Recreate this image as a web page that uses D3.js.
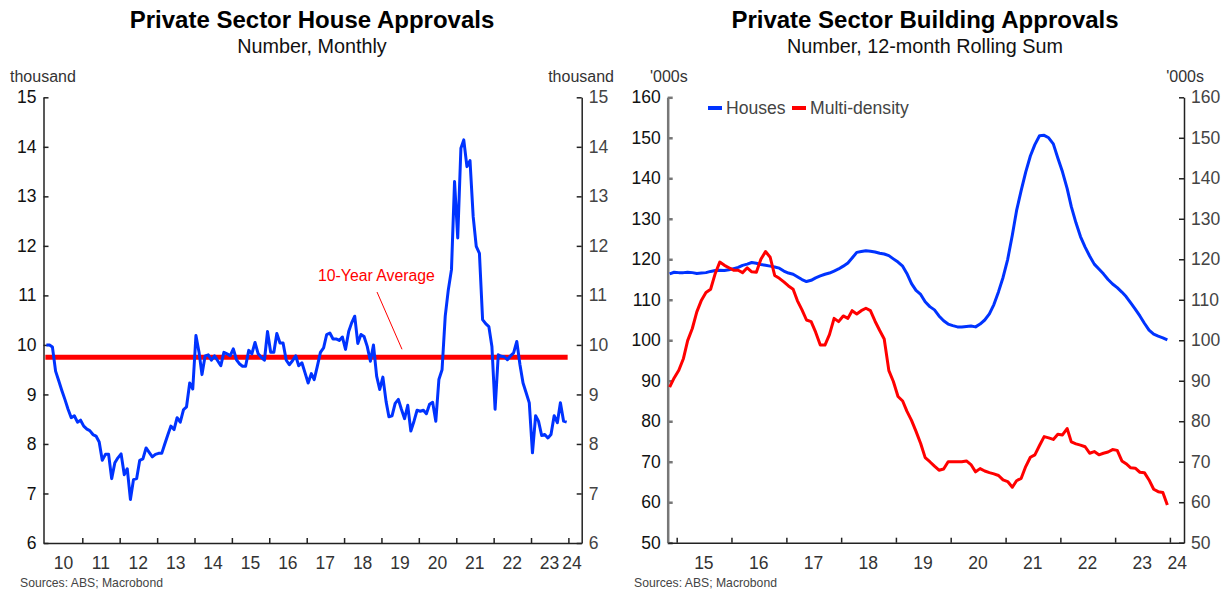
<!DOCTYPE html>
<html>
<head>
<meta charset="utf-8">
<script src="https://cdn.jsdelivr.net/npm/d3@7"></script>
<style>
  body { margin: 0; background: #fff; }
  svg { display: block; font-family: "Liberation Sans", Arial, sans-serif; }
</style>
</head>
<body>
<div class="chart"></div>
<script>
// ---- left panel: monthly private house approvals, '000, Jan 2010 .. Dec 2023
const houseStart = [2010, 0];
const houseMonthly = [
  10.0, 10.0, 9.96, 9.47, 9.28, 9.08, 8.9, 8.7, 8.53, 8.57, 8.44, 8.48,
  8.36, 8.30, 8.27, 8.19, 8.16, 8.04, 7.67, 7.79, 7.79, 7.30, 7.62, 7.72,
  7.80, 7.38, 7.50, 6.88, 7.28, 7.30, 7.67, 7.70, 7.92, 7.83, 7.74, 7.79,
  7.81, 7.81, 7.99, 8.18, 8.36, 8.29, 8.53, 8.44, 8.69, 8.75, 9.23, 9.11,
  10.19, 9.84, 9.40, 9.78, 9.80, 9.69, 9.78, 9.68, 9.58, 9.85, 9.82, 9.78,
  9.92, 9.70, 9.62, 9.57, 9.57, 9.89, 9.82, 10.05, 9.82, 9.75, 9.69, 10.27,
  9.85, 9.85, 10.23, 10.04, 10.04, 9.69, 9.60, 9.68, 9.78, 9.58, 9.64, 9.44,
  9.23, 9.42, 9.30, 9.57, 9.85, 9.94, 10.21, 10.24, 10.12, 10.12, 10.09, 10.16,
  9.91, 10.27, 10.44, 10.58, 10.03, 10.21, 10.17, 9.97, 9.67, 10.0, 9.37, 9.10,
  9.35, 8.86, 8.55, 8.57, 8.82, 8.90, 8.70, 8.51, 8.78, 8.26, 8.46, 8.68,
  8.66, 8.68, 8.61, 8.80, 8.84, 8.46, 9.30, 9.50, 10.58, 11.11, 11.52, 13.30,
  12.16, 13.97, 14.14, 13.60, 13.72, 12.59, 11.99, 11.85, 10.51, 10.43, 10.37, 9.97,
  8.70, 9.80, 9.77, 9.76, 9.70, 9.78, 9.84, 10.07, 9.60, 9.23, 9.03, 8.83,
  7.82, 8.57, 8.46, 8.17, 8.19, 8.12, 8.19, 8.57, 8.43, 8.83, 8.46, 8.44
];
const tenYearAvg = 9.75;
const houseYTicks = [6, 7, 8, 9, 10, 11, 12, 13, 14, 15];
const houseYears = [2010, 2011, 2012, 2013, 2014, 2015, 2016, 2017, 2018, 2019, 2020, 2021, 2022, 2023, 2024];

// ---- right panel: 12-month rolling sum, '000, Nov 2014 .. Dec 2023
const rollStart = [2014, 10];
const housesRolling = [
  116.4, 116.8,
  116.7, 116.7, 116.8, 116.7, 116.5, 116.6, 116.7, 117.0, 117.2, 117.3, 117.2, 117.4,
  117.7, 118.0, 118.5, 118.8, 119.2, 119.0, 118.7, 118.5, 118.3, 118.1, 117.8, 117.1,
  116.6, 116.3, 115.7, 115.0, 114.5, 114.8, 115.4, 115.9, 116.3, 116.6, 117.1, 117.6,
  118.3, 119.1, 120.3, 121.7, 121.9, 122.1, 122.0, 121.8, 121.5, 121.3, 120.9, 120.1,
  119.3, 118.3, 116.5, 114.0, 112.3, 111.3, 109.5, 108.3, 107.5, 106.0, 104.8, 104.0,
  103.6, 103.3, 103.3, 103.4, 103.5, 103.3, 104.0, 105.0, 106.5, 108.8, 112.0, 115.5,
  120.0, 126.0, 132.0, 137.0, 141.5, 145.5, 148.3, 150.5, 150.6, 150.0, 148.5, 145.0,
  141.6, 137.5, 133.0, 129.0, 125.6, 123.0, 120.8, 118.8, 117.6, 116.4, 115.0, 113.9,
  113.0, 111.9, 110.8, 109.2, 107.7, 106.0, 104.2, 102.5, 101.5, 101.0, 100.6, 100.1
];
const multiRolling = [
  88.4, 90.7,
  92.6, 95.5, 99.9, 102.9, 107.0, 109.9, 111.8, 112.6, 116.5, 119.3, 118.5, 117.9,
  117.3, 117.3, 116.7, 117.9, 116.9, 116.8, 120.0, 121.9, 120.5, 116.0, 115.3, 114.4,
  113.4, 112.6, 109.8, 107.5, 105.0, 104.6, 102.0, 98.8, 98.8, 101.4, 105.4, 104.6,
  106.0, 105.4, 107.3, 106.5, 107.3, 107.9, 107.3, 104.7, 102.4, 100.3, 92.5, 89.8,
  86.1, 85.0, 82.5, 80.2, 77.5, 74.5, 71.0, 70.0, 68.9, 67.9, 68.2, 70.0,
  70.0, 70.0, 70.0, 70.2, 69.3, 67.5, 68.3, 67.7, 67.3, 67.0, 66.6, 65.5,
  65.1, 63.7, 65.3, 65.9, 68.8, 71.1, 71.7, 74.0, 76.2, 75.9, 75.5, 76.8,
  76.6, 78.2, 74.9, 74.4, 74.1, 73.7, 72.1, 72.5, 71.7, 72.1, 72.4, 73.0,
  72.8, 70.2, 69.5, 68.5, 68.4, 67.4, 67.3, 65.5, 63.2, 62.6, 62.4, 59.3
];
const rollYTicks = [50, 60, 70, 80, 90, 100, 110, 120, 130, 140, 150, 160];
const rollYears = [2015, 2016, 2017, 2018, 2019, 2020, 2021, 2022, 2023, 2024];
const seriesNames = ["Houses", "Multi-density"];

const BLUE = "#0033ff", RED = "#ff0000";
const FONT = '"Liberation Sans", Arial, sans-serif';

const svg = d3.select('.chart').append('svg')
  .attr("width", 1223)
  .attr("height", 591);

const toSeries = (start, vals) => vals.map((v, i) => ({date: new Date(start[0], start[1] + i, 15), value: v}));

// common axes drawing for one panel
function drawPanel(o) {
  const x = d3.scaleTime().domain(o.xDomain).range([o.left, o.right]);
  const y = d3.scaleLinear().domain(o.yDomain).range([o.bottom, o.top]);

  // titles
  svg.append("text")
    .attr("x", o.cx).attr("y", 28)
    .attr("text-anchor", "middle")
    .attr("font-size", "24px").attr("font-weight", "bold").attr("fill", "#000")
    .text(o.title);
  svg.append("text")
    .attr("x", o.cx).attr("y", 53)
    .attr("text-anchor", "middle")
    .attr("font-size", "19.8px").attr("fill", "#111")
    .text(o.subtitle);

  // unit labels
  svg.append("text")
    .attr("x", o.unitLeftX).attr("y", 82)
    .attr("font-size", "16px").attr("fill", "#333")
    .text(o.unit);
  svg.append("text")
    .attr("x", o.unitRightX).attr("y", 82)
    .attr("text-anchor", "end")
    .attr("font-size", "16px").attr("fill", "#333")
    .text(o.unit);

  const yLeft = d3.axisLeft(y).tickValues(o.yTicks).tickSize(-5).tickSizeOuter(0).tickPadding(7);
  const yRight = d3.axisRight(y).tickValues(o.yTicks).tickSize(-5).tickSizeOuter(0).tickPadding(7);

  const gl = svg.append("g")
    .attr("class", "axis y-left")
    .attr("transform", `translate(${o.left},0)`)
    .call(yLeft);
  gl.selectAll("path, line").attr("stroke", o.leftAxisColor).attr("stroke-width", o.leftAxisWidth);
  gl.selectAll("text").attr("font-size", "17.5px").attr("font-family", FONT).attr("fill", "#111");

  const gr = svg.append("g")
    .attr("class", "axis y-right")
    .attr("transform", `translate(${o.right},0)`)
    .call(yRight);
  gr.selectAll("path, line").attr("stroke", "#222").attr("stroke-width", 1.5);
  gr.selectAll("text").attr("font-size", "17.5px").attr("font-family", FONT).attr("fill", "#444");

  const tickDates = o.years.map(yr => new Date(yr, 0, 1)).filter(d => x(d) > o.left + 2 && x(d) <= o.right);
  const xAxis = d3.axisBottom(x).tickValues(tickDates).tickSize(-5).tickSizeOuter(0).tickFormat("");
  const gx = svg.append("g")
    .attr("class", "axis x-axis")
    .attr("transform", `translate(0,${o.bottom})`)
    .call(xAxis);
  gx.selectAll("path, line").attr("stroke", "#222").attr("stroke-width", 1.5);

  // year labels centred in the middle of each year, clamped at the right end
  o.years.forEach(yr => {
    const mid = x(new Date(yr, 6, 1));
    const lbl = String(yr).slice(2);
    const clamped = mid + 10 > o.right + o.labelOverhang;
    svg.append("text")
      .attr("x", clamped ? o.right + o.labelOverhang : mid)
      .attr("y", 569)
      .attr("text-anchor", clamped ? "end" : "middle")
      .attr("font-size", "17.5px").attr("fill", "#333")
      .text(lbl);
  });

  svg.append("text")
    .attr("x", o.sourceX).attr("y", 587)
    .attr("font-size", "12.2px").attr("fill", "#444")
    .text("Sources: ABS; Macrobond");

  return {x, y};
}

// ================= left panel =================
const houseData = toSeries(houseStart, houseMonthly);
const L = drawPanel({
  title: "Private Sector House Approvals",
  subtitle: "Number, Monthly",
  unit: "thousand",
  cx: 312, left: 43.5, right: 581.7, top: 97.3, bottom: 543,
  xDomain: [new Date(2009, 11, 18), new Date(2024, 4, 10)],
  yDomain: [6, 15], yTicks: houseYTicks, years: houseYears,
  unitLeftX: 10, unitRightX: 614, sourceX: 20, labelOverhang: 0,
  leftAxisColor: "#222", leftAxisWidth: 1.5
});

const lineL = d3.line().x(d => L.x(d.date)).y(d => L.y(d.value));

// 10-year average line over the data span
svg.append("line")
  .attr("x1", L.x(houseData[0].date) - 1)
  .attr("x2", L.x(houseData[houseData.length - 1].date) + 1)
  .attr("y1", L.y(tenYearAvg)).attr("y2", L.y(tenYearAvg))
  .attr("stroke", RED).attr("stroke-width", 5);

svg.append("path")
  .datum(houseData)
  .attr("fill", "none")
  .attr("stroke", BLUE)
  .attr("stroke-width", 3)
  .attr("stroke-linejoin", "round")
  .attr("d", lineL);

svg.append("text")
  .attr("x", 318).attr("y", 281)
  .attr("font-size", "15.8px").attr("fill", RED)
  .text("10-Year Average");
svg.append("line")
  .attr("x1", 377).attr("y1", 292)
  .attr("x2", 402).attr("y2", L.y(tenYearAvg) - 8)
  .attr("stroke", RED).attr("stroke-width", 1);

// ================= right panel =================
const housesData = toSeries(rollStart, housesRolling);
const multiData = toSeries(rollStart, multiRolling);
const R = drawPanel({
  title: "Private Sector Building Approvals",
  subtitle: "Number, 12-month Rolling Sum",
  unit: "'000s",
  cx: 925, left: 667.7, right: 1184, top: 97.3, bottom: 542.7,
  xDomain: [new Date(2014, 10, 2), new Date(2024, 3, 4)],
  yDomain: [50, 160], yTicks: rollYTicks, years: rollYears,
  unitLeftX: 650, unitRightX: 1204, sourceX: 634, labelOverhang: 3,
  leftAxisColor: "#777", leftAxisWidth: 2.5
});

const lineR = d3.line().x(d => R.x(d.date)).y(d => R.y(d.value));
[[housesData, BLUE], [multiData, RED]].forEach(([data, col]) => {
  svg.append("path")
    .datum(data)
    .attr("fill", "none")
    .attr("stroke", col)
    .attr("stroke-width", 3)
    .attr("stroke-linejoin", "round")
    .attr("d", lineR);
});

// legend
const legend = svg.append("g").attr("transform", "translate(708,108)");
[[seriesNames[0], BLUE, 0], [seriesNames[1], RED, 84]].forEach(([name, col, dx]) => {
  legend.append("line")
    .attr("x1", dx).attr("x2", dx + 14).attr("y1", 0).attr("y2", 0)
    .attr("stroke", col).attr("stroke-width", 4);
  legend.append("text")
    .attr("x", dx + 18).attr("y", 6)
    .attr("font-size", "17.6px").attr("fill", "#444")
    .text(name);
});
</script>
</body>
</html>
